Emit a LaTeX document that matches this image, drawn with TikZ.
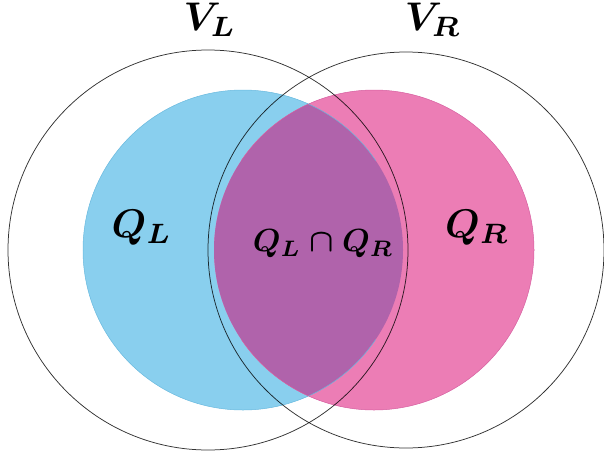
\documentclass[tikz,border=0pt]{standalone}
\begin{document}
\begin{tikzpicture}[x=1pt,y=-1pt,
  bigcirc/.style={draw=black, draw opacity=0.8, line width=0.75pt},
  lbl/.style={inner sep=0pt, scale=4.0, font=\boldmath},
  lblsmall/.style={inner sep=0pt, scale=3.2, font=\boldmath}]
\definecolor{qblue}{RGB}{137,207,238}
\definecolor{qpink}{RGB}{236,125,181}
\definecolor{qpurple}{RGB}{176,99,171}
\definecolor{qblueedge}{RGB}{105,185,222}
\definecolor{qpinkedge}{RGB}{214,95,160}
\useasboundingbox (0,0) rectangle (604,458);
\coordinate (cVL) at (208,250);
\coordinate (cVR) at (406,250);
\coordinate (cQL) at (243,250);
\coordinate (cQR) at (374,250);
% coloured discs
\fill[qblue] (cQL) circle[radius=160pt];
\fill[qpink] (cQR) circle[radius=160pt];
\begin{scope}
  \clip (cQL) circle[radius=160pt];
  \fill[qpurple] (cQR) circle[radius=160pt];
\end{scope}
\draw[qblueedge, line width=0.5pt] (cQL) ++(-160pt,0) arc[start angle=180, end angle=34, radius=160pt];
\draw[qblueedge, line width=0.5pt] (cQL) ++(-160pt,0) arc[start angle=180, end angle=326, radius=160pt];
\draw[qpinkedge, line width=0.5pt] (cQR) ++(160pt,0) arc[start angle=0, end angle=146, radius=160pt];
\draw[qpinkedge, line width=0.5pt] (cQR) ++(160pt,0) arc[start angle=0, end angle=-146, radius=160pt];
% big circles
\draw[bigcirc] (cVL) circle[radius=200pt];
\draw[bigcirc] (cVR) circle[radius=198pt];
% labels
\node[lbl] (VL) at (210,20) {$V_L$};
\node[lbl] (VR) at (433,20) {$V_R$};
\node[lbl] (QL) at (142,228) {$Q_L$};
\node[lbl] (QR) at (477,228) {$Q_R$};
\node[lblsmall] (QLR) at (323,244) {$Q_L\cap Q_R$};
\end{tikzpicture}
\end{document}
